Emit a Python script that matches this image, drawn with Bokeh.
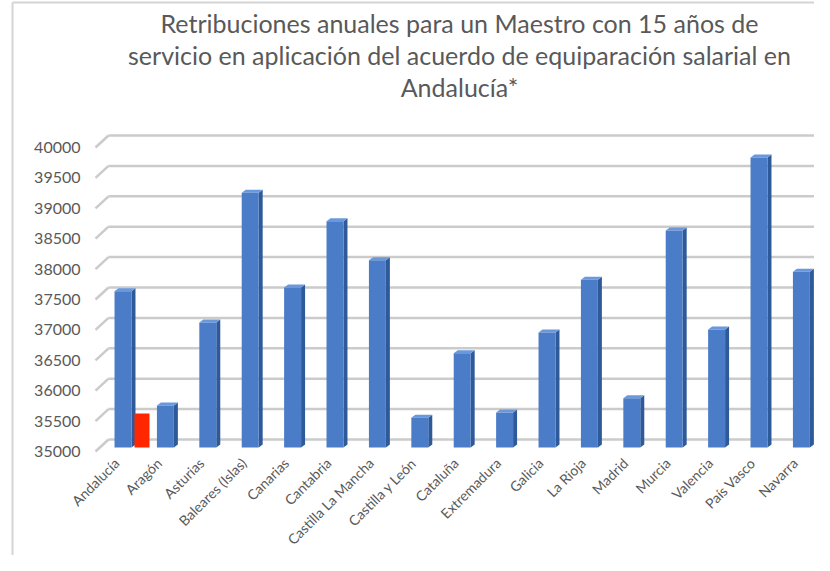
from math import pi
from bokeh.plotting import figure
from bokeh.models import Range1d, ColumnDataSource
from bokeh.core.properties import value
from bokeh.embed import file_html
from bokeh.resources import INLINE

# ---- data ----
regions = ["Andalucía", "Aragón", "Asturias", "Baleares (Islas)", "Canarias",
           "Cantabria", "Castilla La Mancha", "Castilla y León", "Cataluña",
           "Extremadura", "Galicia", "La Rioja", "Madrid", "Murcia",
           "Valencia", "País Vasco", "Navarra"]
salaries = [37570, 35690, 37055, 39190, 37630, 38720, 38080, 35490, 36550,
            35575, 36890, 37760, 35810, 38570, 36940, 39770, 37890]
highlight_regions = ["Andalucía"]
highlight_values = [35560]
y_ticks = [35000, 35500, 36000, 36500, 37000, 37500, 38000, 38500, 39000,
           39500, 40000]
y_tick_labels = [str(t) for t in y_ticks]
title_lines = ["Retribuciones anuales para un Maestro con 15 años de",
               "servicio en aplicación del acuerdo de equiparación salarial en",
               "Andalucía*"]

# ---- layout / styles ----
W, H = 814, 555
BASE = y_ticks[0]
FONT = "Lato"
TXT = "#595959"
GRID = "#cbcbcb"
PX_PER_CAT = 42.4          # pixels between category centres
FIRST_CAT_PX = 122.5       # pixel x of first category centre
UNITS_PER_PX = 1000 / 60.8 # value units per vertical pixel
BASE_PX = 447              # pixel y of the value axis origin


def px_x(px):
    return (px - FIRST_CAT_PX) / PX_PER_CAT


def px_y(py):
    return BASE + (BASE_PX - py) * UNITS_PER_PX


BAR_W = 0.40
SIDE_DX = 4 / PX_PER_CAT
SIDE_DY = 3 * UNITS_PER_PX
DEPTH_Y = 8 * UNITS_PER_PX
FRONT_DY = 4 * UNITS_PER_PX

p = figure(width=W, height=H, x_range=Range1d(px_x(0), px_x(W)),
           y_range=Range1d(px_y(H), px_y(0)), output_backend="svg",
           toolbar_location=None, min_border=0)
p.outline_line_color = None
p.grid.visible = False
p.axis.visible = False
p.background_fill_color = "white"
p.border_fill_color = "white"

# chart-area border (left and top)
p.segment(x0=[px_x(12), px_x(12)], y0=[px_y(H), px_y(2)],
          x1=[px_x(12), px_x(W)], y1=[px_y(2), px_y(2)],
          line_color="#d4d4d4", line_width=2)

# title
p.text(x=[px_x(459)] * 3, y=[px_y(22), px_y(54), px_y(86)], text=title_lines,
       text_align="center", text_baseline="middle", text_font=value(FONT),
       text_font_size="25px", text_color=TXT)

# back-wall gridlines with 3D stubs
GX0, GX_FRONT, GX1 = px_x(108), px_x(95), px_x(W)
n = len(y_ticks)
p.segment(x0=[GX0] * n, x1=[GX1] * n,
          y0=[t + DEPTH_Y for t in y_ticks], y1=[t + DEPTH_Y for t in y_ticks],
          line_color=GRID, line_width=2.5)
p.segment(x0=[GX_FRONT] * n, x1=[GX0] * n,
          y0=[t - FRONT_DY for t in y_ticks], y1=[t + DEPTH_Y for t in y_ticks],
          line_color=GRID, line_width=2.5)

# y tick labels
p.text(x=[px_x(80)] * n, y=[t - FRONT_DY for t in y_ticks], text=y_tick_labels,
       text_align="right", text_baseline="middle", text_font=value(FONT),
       text_font_size="16px", text_color=TXT)

xs_idx = list(range(len(regions)))

# side faces and lids of the 3D bars
side_xs, side_ys, lid_xs, lid_ys = [], [], [], []
for x, v in zip(xs_idx, salaries):
    r = x + BAR_W / 2
    l = x - BAR_W / 2
    side_xs.append([r, r + SIDE_DX, r + SIDE_DX, r])
    side_ys.append([BASE, BASE + SIDE_DY, v + SIDE_DY, v])
    lid_xs.append([l, l + SIDE_DX, r + SIDE_DX, r])
    lid_ys.append([v, v + SIDE_DY, v + SIDE_DY, v])
p.patches(xs=side_xs, ys=side_ys, fill_color="#2f5a9a", line_color=None)
p.patches(xs=lid_xs, ys=lid_ys, fill_color="#6a98dc", line_color=None)

src = ColumnDataSource(dict(x=xs_idx, top=salaries))
p.vbar(x="x", top="top", bottom=BASE, width=BAR_W, source=src,
       fill_color="#4a7cc8", line_color=None)

# highlighted (red) series
hx = [regions.index(r) + 0.448 for r in highlight_regions]
p.vbar(x=hx, top=highlight_values, bottom=BASE, width=0.354,
       fill_color="#ff2600", line_color=None)

# category labels (rotated 45 degrees)
p.text(x=[i - 0.15 for i in xs_idx], y=[BASE - 13 * UNITS_PER_PX] * len(regions),
       text=regions, angle=pi / 4, text_align="right", text_baseline="middle",
       text_font=value(FONT), text_font_size="14px", text_color=TXT)

open("out.html", "w").write(file_html(p, INLINE))
